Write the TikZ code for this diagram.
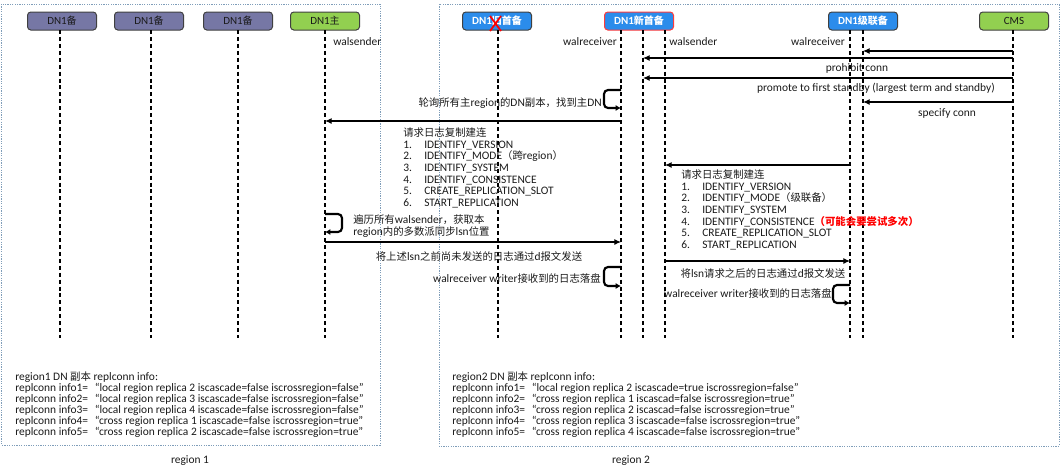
\documentclass[tikz,border=0pt]{standalone}
\usepackage{fontspec}
\setmainfont{Carlito}[Scale=1.1]
\newfontfamily\cjkfont{Noto Sans CJK SC}
\newcommand\zh[1]{{\cjkfont #1}}
\usetikzlibrary{arrows.meta}
\definecolor{stdby}{HTML}{7677A5}
\definecolor{prim}{HTML}{92D050}
\definecolor{blu}{HTML}{2B8CEB}
\definecolor{redb}{HTML}{FF3B3B}
\definecolor{regc}{HTML}{7F9DB9}
\definecolor{txt}{HTML}{1A1A1A}
\begin{document}
\begin{tikzpicture}[x=0.75pt, y=-0.75pt, font=\fontsize{7.8}{8.75}\selectfont, text=txt,
  hdr/.style={draw=black!75, line width=0.75pt, rounded corners=2.5pt, minimum width=51.75pt, minimum height=13.5pt, inner sep=0pt, font=\fontsize{7.5}{9}\selectfont},
  hdrb/.style={hdr, fill=blu, text=white, font=\fontsize{7.5}{9}\selectfont\bfseries},
  region/.style={draw=regc, line width=0.75pt, dash pattern=on 0.9pt off 0.9pt},
  life/.style={draw=black, line width=0.95pt, dash pattern=on 3pt off 2.2pt},
  msg/.style={draw=black, line width=0.8pt, -{Latex[length=5pt,width=4.5pt]}},
  selfmsg/.style={draw=black, line width=1.6pt, rounded corners=3pt, -{Latex[length=4pt,width=4.5pt]}},
  lbl/.style={anchor=base west, inner sep=0pt},
  lblr/.style={anchor=base east, inner sep=0pt},
  lblc/.style={anchor=base, inner sep=0pt},
  block/.style={anchor=north west, inner sep=0pt, align=left}]
\useasboundingbox (0,0) rectangle (1063,472);

% regions
\draw[region] (1.5,4) rectangle (380,445);
\draw[region] (439,4) rectangle (1059,446);
\node[lblc] (rl1) at (190,463.5) {region 1};
\node[lblc] (rl2) at (631,463.5) {region 2};

% headers
\node[hdr, fill=stdby] (s1) at (62,21) {DN1\zh{备}};
\node[hdr, fill=stdby] (s2) at (149,21) {DN1\zh{备}};
\node[hdr, fill=stdby] (s3) at (238,21) {DN1\zh{备}};
\node[hdr, fill=prim] (pri) at (325,21) {DN1\zh{主}};
\node[hdrb] (old) at (497,21) {DN1\zh{旧首备}};
\node[hdrb, draw=redb] (new) at (639,21) {DN1\zh{新首备}};
\node[hdrb] (cas) at (863,21) {DN1\zh{级联备}};
\node[hdr, fill=prim] (cms) at (1014,21) {CMS};
\draw[red, line width=1.3pt] (490,16) -- (501,31) (501,16) -- (490,31);

% lifelines
\coordinate (l1) at (60,30);
\coordinate (l2) at (151,30);
\coordinate (l3) at (238,30);
\coordinate (lp) at (325,30);
\coordinate (lo) at (498,30);
\coordinate (nrecv) at (621,30);
\coordinate (nmain) at (643,30);
\coordinate (nsend) at (665,30);
\coordinate (crecv) at (850,30);
\coordinate (cmain) at (863,30);
\coordinate (lc) at (1013,30);
\foreach \c in {l1,l2,l3,lp,lo,nrecv,nmain,nsend,crecv,cmain,lc}
  \draw[life] (\c) -- (\c |- 0,338);

% role labels
\node[lbl] (ws1) at (333,45.5) {walsender};
\node[lblr] (wr1) at (617,45.5) {walreceiver};
\node[lbl] (ws2) at (669,45.5) {walsender};
\node[lblr] (wr2) at (845,45.5) {walreceiver};

% CMS messages
\draw[msg] (lc |- 0,51) -- (cmain |- 0,51);
\draw[msg] (lc |- 0,58) -- (nmain |- 0,58);
\node[lblc] (m1) at (857,71.5) {prohibit conn};
\draw[msg] (lc |- 0,78) -- (nmain |- 0,78);
\node[lblc] (m2) at (876,91.5) {promote to first standby (largest term and standby)};
\draw[msg] (lc |- 0,102) -- (cmain |- 0,102);
\node[lblc] (m3) at (947,116.5) {specify conn};

% find primary
\draw[selfmsg] (nrecv |- 0,90) -- ++(-17,0) -- ++(0,18) -- (nrecv |- 0,108);
\node[lblr] (m4) at (602,106.5) {\zh{轮询所有主}region\zh{的}DN\zh{副本，找到主}DN};

% request to primary
\draw[msg] (nrecv |- 0,121) -- (lp |- 0,121);
\node[block] (req1) at (403,127.5) {\zh{请求日志复制建连}\\
\makebox[15.75pt][l]{1.}IDENTIFY\_VERSION\\
\makebox[15.75pt][l]{2.}IDENTIFY\_MODE\zh{（跨}region\zh{）}\\
\makebox[15.75pt][l]{3.}IDENTIFY\_SYSTEM\\
\makebox[15.75pt][l]{4.}IDENTIFY\_CONSISTENCE\\
\makebox[15.75pt][l]{5.}CREATE\_REPLICATION\_SLOT\\
\makebox[15.75pt][l]{6.}START\_REPLICATION};

% primary self
\draw[selfmsg] (lp |- 0,214) -- ++(17,0) -- ++(0,18) -- (lp |- 0,232);
\node[block, font=\fontsize{7.8}{9}\selectfont] (m5) at (353,214.5) {\zh{遍历所有}walsender\zh{，获取本}\\region\zh{内的多数派同步}lsn\zh{位置}};

\draw[msg] (lp |- 0,242) -- (nrecv |- 0,242);
\node[lblc] (m6) at (479,260.5) {\zh{将上述}lsn\zh{之前尚未发送的日志通过}d\zh{报文发送}};

\draw[selfmsg] (nrecv |- 0,267) -- ++(-17,0) -- ++(0,19) -- (nrecv |- 0,286);
\node[lblr] (m7) at (601,282.5) {walreceiver writer\zh{接收到的日志落盘}};

% cascade request
\draw[msg] (crecv |- 0,165) -- (nsend |- 0,165);
\node[block] (req2) at (681,169.5) {\zh{请求日志复制建连}\\
\makebox[15.75pt][l]{1.}IDENTIFY\_VERSION\\
\makebox[15.75pt][l]{2.}IDENTIFY\_MODE\zh{（级联备）}\\
\makebox[15.75pt][l]{3.}IDENTIFY\_SYSTEM\\
\makebox[15.75pt][l]{4.}IDENTIFY\_CONSISTENCE\textcolor{red}{\bfseries\zh{（可能会要尝试多次）}}\\
\makebox[15.75pt][l]{5.}CREATE\_REPLICATION\_SLOT\\
\makebox[15.75pt][l]{6.}START\_REPLICATION};

\draw[msg] (nsend |- 0,261) -- (crecv |- 0,261);
\node[lblc] (m8) at (763,277.5) {\zh{将}lsn\zh{请求之后的日志通过}d\zh{报文发送}};

\draw[selfmsg] (crecv |- 0,285) -- ++(-17,0) -- ++(0,18) -- (crecv |- 0,303);
\node[lblr] (m9) at (832,297.5) {walreceiver writer\zh{接收到的日志落盘}};

% info blocks
\node[block, font=\fontsize{7.8}{8.25}\selectfont] (info1) at (15,371.5) {region1 DN \zh{副本} replconn info:\\
replconn info1=\hspace{5pt}“local region replica 2 iscascade=false iscrossregion=false”\\
replconn info2=\hspace{5pt}“local region replica 3 iscascade=false iscrossregion=false”\\
replconn info3=\hspace{5pt}“local region replica 4 iscascade=false iscrossregion=false”\\
replconn info4=\hspace{5pt}“cross region replica 1 iscascade=false iscrossregion=true”\\
replconn info5=\hspace{5pt}“cross region replica 2 iscascade=false iscrossregion=true”};

\node[block, font=\fontsize{7.8}{8.25}\selectfont] (info2) at (452,371.5) {region2 DN \zh{副本} replconn info:\\
replconn info1=\hspace{5pt}“local region replica 2 iscascade=true iscrossregion=false”\\
replconn info2=\hspace{5pt}“cross region replica 1 iscascad=false iscrossregion=true”\\
replconn info3=\hspace{5pt}“cross region replica 2 iscascad=false iscrossregion=true”\\
replconn info4=\hspace{5pt}“cross region replica 3 iscascade=false iscrossregion=true”\\
replconn info5=\hspace{5pt}“cross region replica 4 iscascade=false iscrossregion=true”};
\end{tikzpicture}
\end{document}
